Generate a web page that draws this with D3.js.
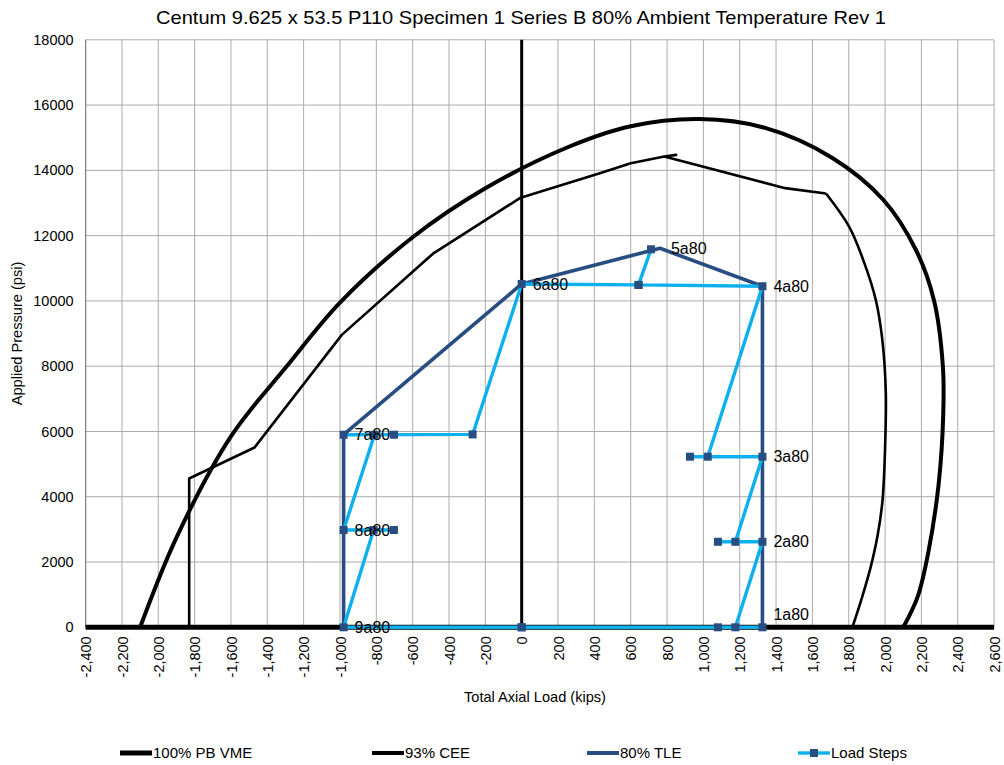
<!DOCTYPE html>
<html><head><meta charset="utf-8">
<script src="https://cdn.jsdelivr.net/npm/d3@7"></script>
<style>
body{margin:0;background:#fff}
svg{display:block}
text{font-family:"Liberation Sans",Arial,sans-serif;fill:#000}
</style>
</head><body>
<svg id="c" width="1004" height="765"></svg>
<script>
const chartTitle = "Centum 9.625 x 53.5 P110 Specimen 1 Series B 80% Ambient Temperature Rev 1";
const xTicks = [-2400,-2200,-2000,-1800,-1600,-1400,-1200,-1000,-800,-600,-400,-200,0,200,400,600,800,1000,1200,1400,1600,1800,2000,2200,2400,2600];
const yTicks = [0,2000,4000,6000,8000,10000,12000,14000,16000,18000];

// 100% PB VME
const vmeLoad = [-2100,-1900,-1600,-1300,-1000,-600,-200,250,600,980,1340,1710,1990,2170,2270,2318,2320,2295,2240,2180,2100];
const vmePressure = [0,2750,5850,7950,9950,11950,13450,14700,15350,15570,15300,14380,13100,11560,10000,8000,6500,4400,2360,950,0];

// 93% CEE (kinked part, then smooth right branch)
const ceeLoad = [-1830,-1830,-1470,-990,-490,-10,430,600,785,850,785,1450,1675];
const ceePressure = [0,4560,5510,8960,11440,13150,13910,14220,14425,14475,14425,13455,13290];
const ceeRightLoad = [1675,1802,1880,1949,1985,2004,2000,1986,1960,1921,1875,1820];
const ceeRightPressure = [13290,12277,11250,10030,8800,7200,5500,3900,2850,1850,950,0];

// 80% TLE
const tleLoad = [1325,1325,1325,1325,761,0,-980,-980,-980];
const tlePressure = [0,2620,5227,10450,11613,10520,5900,2980,0];
const tleLabels = ["1a80","2a80","3a80","4a80","5a80","6a80","7a80","8a80","9a80"];

// Load Steps
const stepLoad = [0,1325,1080,1176,1325,1080,1176,1325,926,1024,1325,643,712,643,0,-270,-980,-703,-810,-980,-703,-815,-980,0];
const stepPressure = [0,0,0,0,2620,2620,2620,5227,5227,5227,10450,10490,11582,10490,10520,5910,5900,5900,5900,2980,2980,2980,0,0];

const seriesNames = ["100% PB VME","93% CEE","80% TLE","Load Steps"];

const svg = d3.select("#c");
const L = 85.6, R = 994.1, T = 39.8, B = 627.3;
const x = d3.scaleLinear().domain([-2400,2600]).range([L,R]);
const y = d3.scaleLinear().domain([0,18000]).range([B,T]);

const gridColor = "#ababab";
svg.append("g").selectAll("line").data(xTicks).join("line")
  .attr("x1",d=>x(d)).attr("x2",d=>x(d)).attr("y1",T).attr("y2",B)
  .attr("stroke",gridColor).attr("stroke-width",1);
svg.append("g").selectAll("line").data(yTicks).join("line")
  .attr("x1",L).attr("x2",R).attr("y1",d=>y(d)).attr("y2",d=>y(d))
  .attr("stroke",gridColor).attr("stroke-width",1);
svg.append("line").attr("x1",L).attr("x2",L).attr("y1",T).attr("y2",B).attr("stroke","#7f7f7f").attr("stroke-width",1.2);

const yAxis = d3.axisLeft(y).tickValues(yTicks).tickSize(0).tickPadding(12).tickFormat(d3.format("d"));
const gy = svg.append("g").attr("transform",`translate(${L},0)`).call(yAxis);
gy.select(".domain").remove();
gy.selectAll("text").attr("font-size",14.5).attr("font-family","Liberation Sans, Arial, sans-serif").attr("fill","#000");

const fmt = d => d3.format(",")(d).replace("\u2212","-");
const xAxis = d3.axisBottom(x).tickValues(xTicks).tickSize(0).tickPadding(0).tickFormat(fmt);
const gx = svg.append("g").attr("transform",`translate(0,${B})`).call(xAxis);
gx.select(".domain").remove();
gx.selectAll("text").attr("font-size",14.5).attr("font-family","Liberation Sans, Arial, sans-serif").attr("fill","#000")
  .attr("transform","rotate(-90)").attr("text-anchor","end").attr("dy","0.35em").attr("x",-9).attr("y",0);

svg.append("line").attr("x1",x(0)).attr("x2",x(0)).attr("y1",y(0)).attr("y2",y(18000)).attr("stroke","#000").attr("stroke-width",3);
svg.append("line").attr("x1",L).attr("x2",R).attr("y1",y(0)).attr("y2",y(0)).attr("stroke","#000").attr("stroke-width",5);

const zip = (a,b) => a.map((v,i)=>[v,b[i]]);
const smooth = d3.line().x(d=>x(d[0])).y(d=>y(d[1])).curve(d3.curveCatmullRom.alpha(0.5));
const straight = d3.line().x(d=>x(d[0])).y(d=>y(d[1]));

svg.append("path").attr("d",smooth(zip(vmeLoad,vmePressure)))
  .attr("fill","none").attr("stroke","#000").attr("stroke-width",4);
svg.append("path").attr("d",straight(zip(ceeLoad,ceePressure)))
  .attr("fill","none").attr("stroke","#000").attr("stroke-width",2.6).attr("stroke-linejoin","round");
svg.append("path").attr("d",smooth(zip(ceeRightLoad,ceeRightPressure)))
  .attr("fill","none").attr("stroke","#000").attr("stroke-width",2.6).attr("stroke-linejoin","round");

const tleColor = "#284d80", stepColor = "#0db0ee";
svg.append("path").attr("d",straight(zip(tleLoad,tlePressure)))
  .attr("fill","none").attr("stroke",tleColor).attr("stroke-width",3.6).attr("stroke-linejoin","round");
svg.append("path").attr("d",straight(zip(stepLoad,stepPressure)))
  .attr("fill","none").attr("stroke",stepColor).attr("stroke-width",3.4).attr("stroke-linejoin","round");
svg.append("g").selectAll("rect").data(zip(stepLoad,stepPressure)).join("rect")
  .attr("x",d=>x(d[0])-4).attr("y",d=>y(d[1])-4).attr("width",8).attr("height",8)
  .attr("fill",tleColor);

svg.append("g").selectAll("text").data(tleLabels).join("text")
  .attr("x",(d,i)=>x(tleLoad[i])+11)
  .attr("y",(d,i)=>y(tlePressure[i]) + (i===0 ? -13 : 0))
  .attr("dy","0.35em").attr("font-size",16).text(d=>d);

svg.append("text").attr("x",521).attr("y",24).attr("text-anchor","middle").attr("font-size",19)
  .attr("textLength",730).attr("lengthAdjust","spacingAndGlyphs").text(chartTitle);
svg.append("text").attr("x",535).attr("y",702).attr("text-anchor","middle").attr("font-size",14.6).text("Total Axial Load (kips)");
svg.append("text").attr("transform","translate(22,333.5) rotate(-90)").attr("text-anchor","middle").attr("font-size",14.6).text("Applied Pressure (psi)");

const legY = 753;
const legX = [120,372,587,798];
const legStyles = [{c:"#000",w:5},{c:"#000",w:4},{c:tleColor,w:4},{c:stepColor,w:3.4}];
seriesNames.forEach((n,i)=>{
  const g = svg.append("g");
  g.append("line").attr("x1",legX[i]).attr("x2",legX[i]+32).attr("y1",legY).attr("y2",legY)
    .attr("stroke",legStyles[i].c).attr("stroke-width",legStyles[i].w);
  if(i===3) g.append("rect").attr("x",legX[i]+12).attr("y",legY-4).attr("width",8).attr("height",8).attr("fill",tleColor);
  g.append("text").attr("x",legX[i]+33).attr("y",legY).attr("dy","0.35em").attr("font-size",15).text(n);
});
</script>
</body></html>
